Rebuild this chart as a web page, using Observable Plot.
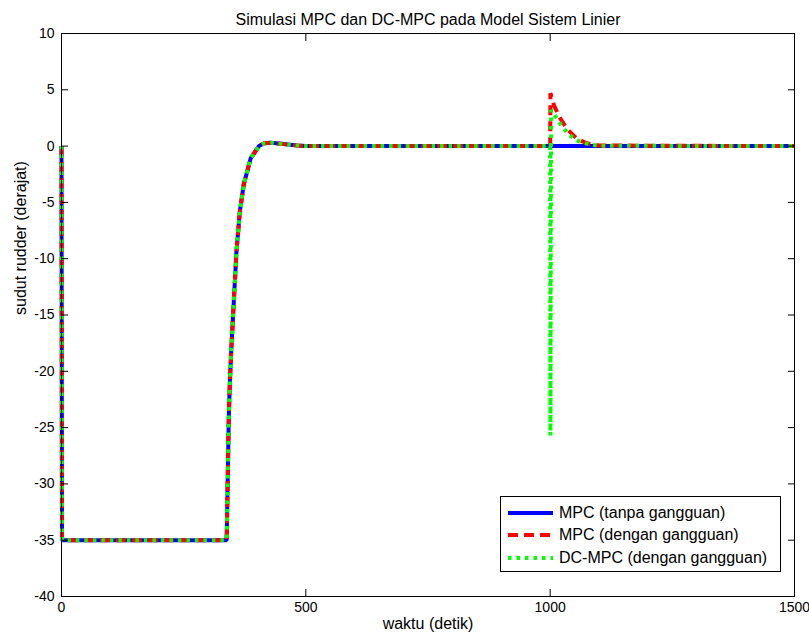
<!DOCTYPE html>
<html>
<head>
<meta charset="utf-8">
<script src="https://cdn.jsdelivr.net/npm/d3@7"></script>
<script src="https://cdn.jsdelivr.net/npm/@observablehq/plot@0.6"></script>
<style>
  body { margin: 0; background: #fff; }
  #wrap { position: relative; width: 809px; height: 639px; font-family: "Liberation Sans", Arial, sans-serif; }
  #legend { position: absolute; left: 500px; top: 496px; width: 281px; height: 76px; border: 1px solid #000; background: #fff; box-sizing: border-box; }
  .row { position: absolute; left: 7px; height: 22px; display: flex; align-items: center; font-size: 16px; color: #000; white-space: nowrap; }
  .row svg { margin-right: 6px; }
</style>
</head>
<body>
<div id="wrap"><div id="legend"></div></div>
<script>
// ---- data ----
const titleText = "Simulasi MPC dan DC-MPC pada Model Sistem Linier";
const xLabel = "waktu (detik)";
const yLabel = "sudut rudder (derajat)";
const xTicks = [0, 500, 1000, 1500];
const yTicks = [-40, -35, -30, -25, -20, -15, -10, -5, 0, 5, 10];
const seriesNames = ["MPC (tanpa gangguan)", "MPC (dengan gangguan)", "DC-MPC (dengan gangguan)"];

// MPC tanpa gangguan
const tBlue = [0, 1, 338, 340, 342.4, 344.5, 347.3, 352.6, 358, 365, 373, 387, 404, 415, 428, 450, 482, 500, 1500];
const vBlue = [0, -35, -35, -30, -24, -21, -18.2, -13.8, -9.4, -5.8, -3.4, -1.1, 0, 0.25, 0.3, 0.2, 0.05, 0, 0];

// MPC dengan gangguan
const tRed = [0, 1, 338, 340, 342.4, 344.5, 347.3, 352.6, 358, 365, 373, 387, 404, 415, 428, 450, 482, 500, 1000, 1000.5, 1008, 1020, 1035, 1055, 1075, 1100, 1500];
const vRed = [0, -35, -35, -30, -24, -21, -18.2, -13.8, -9.4, -5.8, -3.4, -1.1, 0, 0.25, 0.3, 0.2, 0.05, 0, 0, 4.7, 3.6, 2.5, 1.5, 0.65, 0.25, 0.05, 0];

// DC-MPC dengan gangguan
const tGreen = [0, 1, 338, 340, 342.4, 344.5, 347.3, 352.6, 358, 365, 373, 387, 404, 415, 428, 450, 482, 500, 1000, 1000.5, 1002, 1010, 1022, 1038, 1058, 1080, 1100, 1500];
const vGreen = [0, -35, -35, -30, -24, -21, -18.2, -13.8, -9.4, -5.8, -3.4, -1.1, 0, 0.25, 0.3, 0.2, 0.05, 0, 0, -25.7, 3.2, 2.7, 1.9, 1.0, 0.45, 0.15, 0.03, 0];

// ---- styles ----
const colors = ["#0000ff", "#ff0000", "#00ff00"];
const dashes = [null, "10,6", "3.5,5"];

const rows = (ts, vs) => ts.map((t, i) => ({t, v: vs[i]}));
const series = [rows(tBlue, vBlue), rows(tRed, vRed), rows(tGreen, vGreen)];

const fmt = d => String(d);

const chart = Plot.plot({
  width: 809,
  height: 639,
  marginLeft: 61,
  marginRight: 15,
  marginTop: 33,
  marginBottom: 43,
  style: {fontFamily: "'Liberation Sans', Arial, sans-serif", fontSize: "14px", color: "#000", background: "#fff"},
  x: {domain: [0, 1500]},
  y: {domain: [-40, 10]},
  marks: [
    ...series.map((s, i) => Plot.line(s, {
      x: "t", y: "v", stroke: colors[i], strokeWidth: 4,
      strokeLinecap: "butt", strokeLinejoin: "miter",
      strokeDasharray: dashes[i] || undefined
    })),
    Plot.frame({stroke: "#000", strokeWidth: 1}),
    Plot.axisX(xTicks, {anchor: "bottom", tickSize: 0, tickPadding: 6, tickFormat: fmt, label: null}),
    Plot.axisX(xTicks, {anchor: "bottom", tickSize: -7, tickFormat: () => "", label: null}),
    Plot.axisX(xTicks, {anchor: "top", tickSize: -7, tickFormat: () => "", label: null}),
    Plot.axisY(yTicks, {anchor: "left", tickSize: 0, tickPadding: 7, tickFormat: fmt, label: null}),
    Plot.axisY(yTicks, {anchor: "left", tickSize: -7, tickFormat: () => "", label: null}),
    Plot.axisY(yTicks, {anchor: "right", tickSize: -7, tickFormat: () => "", label: null}),
    Plot.text([titleText], {text: d => d, frameAnchor: "top", dy: -20, fontSize: 16}),
    Plot.text([xLabel], {text: d => d, frameAnchor: "bottom", dy: 32, fontSize: 16}),
    Plot.text([yLabel], {text: d => d, frameAnchor: "left", dx: -41, rotate: -90, fontSize: 16})
  ]
});
document.getElementById("wrap").prepend(chart);

// ---- legend ----
const legend = document.getElementById("legend");
const rowTops = [5, 27, 50];
seriesNames.forEach((name, i) => {
  const r = document.createElement("div");
  r.className = "row";
  r.style.top = rowTops[i] + "px";
  const svgNS = "http://www.w3.org/2000/svg";
  const sw = document.createElementNS(svgNS, "svg");
  sw.setAttribute("width", 45);
  sw.setAttribute("height", 10);
  const ln = document.createElementNS(svgNS, "line");
  ln.setAttribute("x1", 0); ln.setAttribute("x2", 45);
  ln.setAttribute("y1", 5); ln.setAttribute("y2", 5);
  ln.setAttribute("stroke", colors[i]);
  ln.setAttribute("stroke-width", 4);
  if (dashes[i]) ln.setAttribute("stroke-dasharray", dashes[i]);
  sw.appendChild(ln);
  r.appendChild(sw);
  const tx = document.createElement("span");
  tx.textContent = name;
  r.appendChild(tx);
  legend.appendChild(r);
});
</script>
</body>
</html>
